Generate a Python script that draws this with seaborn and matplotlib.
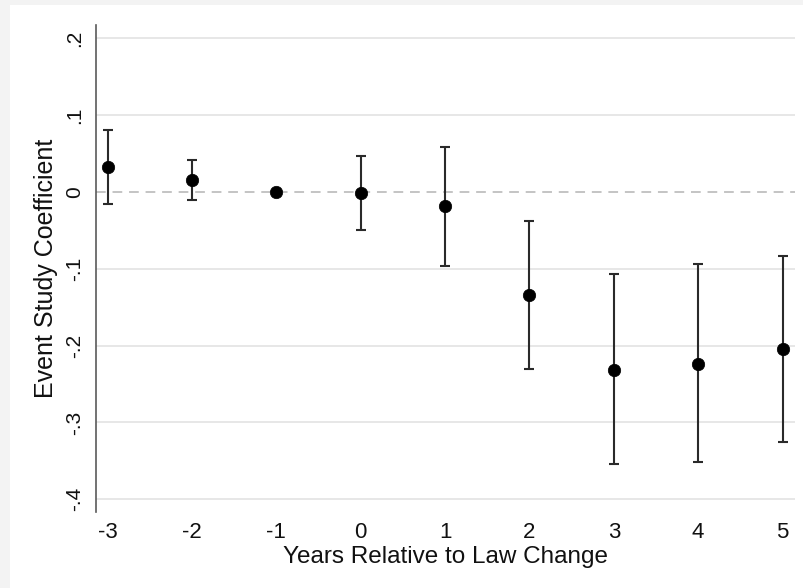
import matplotlib
matplotlib.use("Agg")
import matplotlib.pyplot as plt
import seaborn as sns
import numpy as np
import pandas as pd
from matplotlib.patches import Rectangle

# ---- data ----
years = [-3, -2, -1, 0, 1, 2, 3, 4, 5]
coef = [0.0325, 0.015, 0.0, -0.002, -0.019, -0.134, -0.2315, -0.2235, -0.205]
ci_low = [-0.0156, -0.0108, np.nan, -0.050, -0.097, -0.230, -0.354, -0.352, -0.326]
ci_high = [0.080, 0.041, np.nan, 0.046, 0.058, -0.038, -0.107, -0.094, -0.083]
y_ticks = [-0.4, -0.3, -0.2, -0.1, 0.0, 0.1, 0.2]
y_tick_labels = ["-.4", "-.3", "-.2", "-.1", "0", ".1", ".2"]
x_label = "Years Relative to Law Change"
y_label = "Event Study Coefficient"

df = pd.DataFrame({"year": years, "coef": coef, "lo": ci_low, "hi": ci_high})

sns.set_style("white")
plt.rcParams["font.family"] = ["Liberation Sans", "DejaVu Sans"]

fig = plt.figure(figsize=(8.04, 5.88), dpi=100)
fig.patch.set_facecolor("#f3f3f3")
fig.patches.append(Rectangle((10 / 804, 0), 1 - 10 / 804, 1 - 5 / 588,
                             transform=fig.transFigure, facecolor="white",
                             edgecolor="none", zorder=-10))

ax = fig.add_axes([95.7 / 804, 1 - 512 / 588, (795 - 95.7) / 804, (512 - 25) / 588])
ax.set_zorder(5)
ax.set_facecolor("none")

# gridlines
for yt in y_ticks:
    if yt != 0:
        ax.axhline(yt, color="#e3e3e3", lw=1.2, zorder=1)
ax.axhline(0, color="#c4c4c4", lw=1.4, ls=(0, (5, 3.5)), zorder=1)

# confidence intervals
valid = df.dropna()
ax.errorbar(valid["year"], valid["coef"],
            yerr=[valid["coef"] - valid["lo"], valid["hi"] - valid["coef"]],
            fmt="none", ecolor="#2a2a2a", elinewidth=1.5, capsize=3.8,
            capthick=1.5, zorder=2)

# point estimates
sns.scatterplot(data=df, x="year", y="coef", ax=ax, color="black", s=80,
                edgecolor="black", linewidth=0.5, zorder=3, legend=False)

ax.set_xlim(-3.142, 5.148)
ax.set_ylim(-0.4165, 0.2168)
ax.set_xticks(years)
ax.set_xticklabels([str(y) for y in years])
ax.set_yticks(y_ticks)
ax.set_yticklabels(y_tick_labels, rotation=90, va="center")

for side in ["top", "right", "bottom"]:
    ax.spines[side].set_visible(False)
ax.spines["left"].set_color("#5a5a5a")
ax.spines["left"].set_linewidth(1.2)

ax.tick_params(axis="y", length=6.5, width=1.0, color="#5a5a5a",
               labelsize=15, pad=1.5, labelcolor="#111111")
ax.tick_params(axis="x", length=0, labelsize=16, pad=7.5, labelcolor="#111111")

ax.set_xlabel(x_label, fontsize=17.5, labelpad=2, color="#111111")
ax.set_ylabel(y_label, fontsize=18, labelpad=5.5, color="#111111")

fig.savefig("out.png", dpi=100, facecolor=fig.get_facecolor())
